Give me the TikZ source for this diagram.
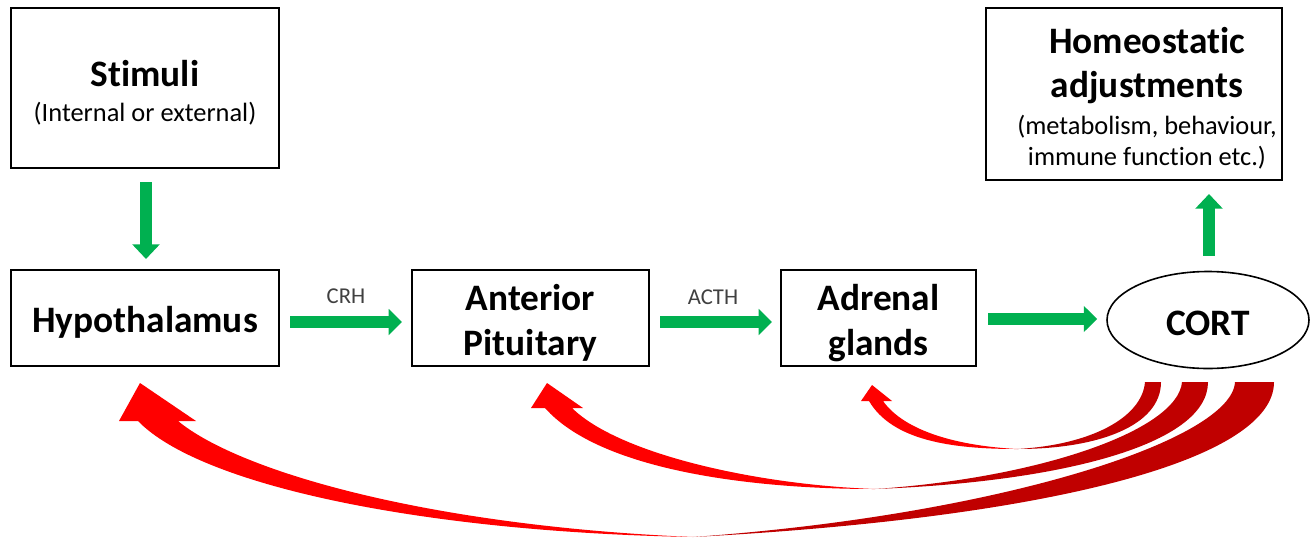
\documentclass[tikz,border=0pt]{standalone}
\usepackage{fontspec}
\setmainfont{Carlito}[Ligatures=NoCommon]
\usetikzlibrary{arrows.meta,calc,shapes.geometric}
\definecolor{gr}{HTML}{00B050}
\definecolor{rd}{HTML}{FF0000}
\definecolor{drd}{HTML}{C00000}
\definecolor{lbl}{HTML}{404040}
\newcommand{\bigf}{\fontsize{28}{34}\selectfont\bfseries}
\newcommand{\smf}{\fontsize{19.8}{23}\selectfont\mdseries}
\newcommand{\lw}[2][3.75pt]{\raisebox{-#1}[\height][\depth]{#2}}
\begin{document}
\begin{tikzpicture}[x=0.75pt,y=-0.75pt,
  box/.style={draw,line width=1.5pt,inner sep=0pt,align=center,font=\bigf},
  txt/.style={inner sep=0pt,align=center,font=\bigf},
  garrow/.style={draw=gr,line width=9pt,-{Triangle[width=19pt,length=10pt]}},
  lab/.style={font=\fontsize{17}{20}\selectfont,text=lbl},
  rfill/.style={fill=rd},
  dfill/.style={fill=drd}]
\useasboundingbox (0,0) rectangle (1312,539);
% nodes
\node[box,minimum width=201pt,minimum height=120pt] (stim) at (145,88)
  {\lw{Stimuli}\\[-8pt]{\smf\lw{(Internal or external)}}};
\node[box,minimum width=201pt,minimum height=72pt] (hyp) at (145,318) {\lw[3pt]{Hypothalamus}};
\node[box,minimum width=177.75pt,minimum height=72pt] (ant) at (530.5,318) {\lw{Anterior}\\\lw{Pituitary}};
\node[box,minimum width=146.25pt,minimum height=72pt] (adr) at (878.5,318) {\lw{Adrenal}\\\lw{glands}};
\node[box,minimum width=222pt,minimum height=129pt] (hom) at (1134,94) {};
\node[txt] (homt) at ($(hom.center)+(13,4)$)
  {Homeostatic\\[-1pt]adjustments\\[-6.25pt]{\smf (metabolism, behaviour,}\\[-11pt]{\smf immune function etc.)}};
\node[draw,ellipse,line width=1.2pt,inner sep=0pt,minimum width=151.5pt,minimum height=72.75pt,font=\bigf] (cort) at (1208,320) {\lw[2.25pt]{CORT}};
% green arrows
\draw[garrow,-{Triangle[width=20pt,length=11pt]}] ($(stim.south)+(1,13)$) -- ($(hyp.north)+(1,-10)$);
\draw[garrow] ($(hyp.east)+(10,4)$) -- ($(ant.west)+(-9,4)$);
\draw[garrow] ($(ant.east)+(10,4)$) -- ($(adr.west)+(-8,4)$);
\draw[garrow] ($(adr.east)+(11,1)$) -- ($(cort.west)+(-9,-1)$);
\draw[garrow,-{Triangle[width=20pt,length=11pt]}] ($(cort.north)+(1,-15)$) -- ($(cort.north |- hom.south)+(1,13)$);
\node[lab] (crh) at (346,296) {CRH};
\node[lab] (acth) at (713,297) {ACTH};
% red feedback arrows: arrow 3 (to Hypothalamus)
\fill[rfill] (138,421) .. controls (200,485) and (420,532) .. (693,537)
  .. controls (430,526) and (240,472) .. (178,421) -- (196,421) -- (140,383) -- (119,421) -- cycle;
\fill[dfill] (693,537) .. controls (1050,518) and (1274,460) .. (1274,382)
  -- (1235,382) .. controls (1232,440) and (1000,515) .. (693,537) -- cycle;
% arrow 2 (to Anterior Pituitary)
\fill[rfill] (545,408) .. controls (600,470) and (750,489) .. (875,489)
  .. controls (760,485) and (620,455) .. (572,408) -- (583,408) -- (547,383) -- (531,408) -- cycle;
\fill[dfill] (875,489) .. controls (1060,482) and (1208,445) .. (1208,382)
  -- (1182,382) .. controls (1178,430) and (1040,478) .. (875,489) -- cycle;
% arrow 1 (to Adrenal glands)
\fill[rfill] (869,401) .. controls (892,440) and (950,449) .. (1017,449)
  .. controls (960,446) and (905,432) .. (883,401) -- (892,401) -- (872,385) -- (861,401) -- cycle;
\fill[dfill] (1017,449) .. controls (1100,449) and (1161,425) .. (1161,382)
  -- (1145,382) .. controls (1142,418) and (1090,445) .. (1017,449) -- cycle;
\end{tikzpicture}
\end{document}
